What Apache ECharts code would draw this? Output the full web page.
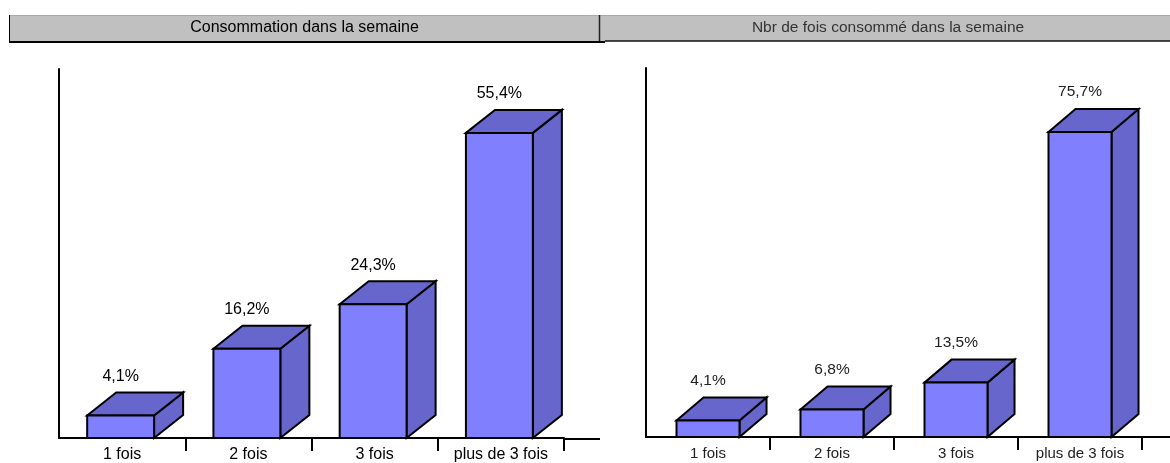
<!DOCTYPE html>
<html><head><meta charset="utf-8">
<script src="https://cdn.jsdelivr.net/npm/echarts@6/dist/echarts.min.js"></script>
<style>html,body{margin:0;padding:0;background:#fff}#c{width:1170px;height:463px}</style>
</head><body><div id="c"></div>
<script>
const categories = ['1 fois', '2 fois', '3 fois', 'plus de 3 fois'];
const consommationValues = [4.1, 16.2, 24.3, 55.4];
const nbrFoisValues = [4.1, 6.8, 13.5, 75.7];
const titles = ['Consommation dans la semaine', 'Nbr de fois consommé dans la semaine'];

const FONT = "'Liberation Sans', Arial, sans-serif";
const G = [
  {left: 59, top: 69, width: 505, height: 370, max: 67, wr: 0.53, dr: 0.23, dy: 23, shift: -1.5, lg: 16, fs: 16, cfs: 16, ext: 600, color: '#000', ccolor: '#000'},
  {left: 646, top: 68, width: 496, height: 369, max: 91.6, wr: 0.508, dr: 0.218, dy: 23, shift: 0, lg: 17, fs: 15.5, cfs: 15, ext: 1170, color: '#222', ccolor: '#222'}
];

function fmt(v) { return v.toFixed(1).replace('.', ',') + '%'; }

function makeRender(cfg) {
  return function (params, api) {
    const idx = api.value(0), val = api.value(1);
    const top = api.coord([idx, val]);
    const base = api.coord([idx, 0]);
    const cw = api.size([1, 0])[0];
    const w = cw * cfg.wr, dx = cw * cfg.dr, dy = cfg.dy;
    const x0 = top[0] - w / 2 + cfg.shift, x1 = x0 + w;
    const yT = top[1], yB = base[1];
    const st = {stroke: '#000', lineWidth: 2, lineJoin: 'miter'};
    return {type: 'group', children: [
      {type: 'polygon', shape: {points: [[x1, yB], [x1 + dx, yB - dy], [x1 + dx, yT - dy], [x1, yT]]}, style: Object.assign({}, st, {fill: '#6666cc'})},
      {type: 'polygon', shape: {points: [[x0, yT], [x0 + dx, yT - dy], [x1 + dx, yT - dy], [x1, yT]]}, style: Object.assign({}, st, {fill: '#6666cc'})},
      {type: 'rect', shape: {x: x0, y: yT, width: w, height: yB - yT}, style: Object.assign({}, st, {fill: '#8080ff'})},
      {type: 'text', x: (x0 + x1) / 2, y: yT - dy - cfg.lg, style: {text: fmt(val), fill: cfg.color, font: cfg.fs + 'px ' + FONT, align: 'center', verticalAlign: 'middle'}}
    ]};
  };
}

const chart = echarts.init(document.getElementById('c'));
const datasets = [consommationValues, nbrFoisValues];

chart.setOption({
  animation: false,
  grid: G.map(g => ({left: g.left, top: g.top, width: g.width, height: g.height})),
  xAxis: G.map((g, i) => ({
    type: 'category', gridIndex: i, data: categories,
    axisLine: {lineStyle: {color: '#000', width: 2}},
    axisTick: {show: true, length: 13, alignWithLabel: false, interval: function (idx) { return idx !== 0; }, lineStyle: {color: '#000', width: 2}},
    axisLabel: {margin: 9, color: g.ccolor, fontSize: g.cfs, fontFamily: FONT, interval: 0},
    splitLine: {show: false}
  })),
  yAxis: G.map((g, i) => ({
    type: 'value', gridIndex: i, min: 0, max: g.max,
    axisLine: {show: true, lineStyle: {color: '#000', width: 2}},
    axisTick: {show: false}, axisLabel: {show: false}, splitLine: {show: false}
  })),
  series: G.map((g, i) => ({
    type: 'custom', xAxisIndex: i, yAxisIndex: i,
    renderItem: makeRender(g),
    data: datasets[i].map((v, k) => [k, v]),
    z: 5
  })),
  graphic: [
    {type: 'rect', shape: {x: 9, y: 15, width: 591, height: 26}, style: {fill: '#c0c0c0'}},
    {type: 'rect', shape: {x: 600, y: 15, width: 570, height: 26}, style: {fill: '#c0c0c0'}},
    {type: 'line', shape: {x1: 9, y1: 15.5, x2: 1170, y2: 15.5}, style: {stroke: '#a8a8a8', lineWidth: 1}},
    {type: 'line', shape: {x1: 9.5, y1: 15, x2: 9.5, y2: 43}, style: {stroke: '#000', lineWidth: 1}},
    {type: 'line', shape: {x1: 9, y1: 42, x2: 605, y2: 42}, style: {stroke: '#000', lineWidth: 2}},
    {type: 'line', shape: {x1: 605, y1: 41, x2: 1170, y2: 41}, style: {stroke: '#111', lineWidth: 1.5}},
    {type: 'line', shape: {x1: 599.5, y1: 15, x2: 599.5, y2: 41}, style: {stroke: '#222', lineWidth: 1.5}},
    {type: 'text', x: 304.5, y: 28, style: {text: titles[0], fill: '#000', font: '16px ' + FONT, align: 'center', verticalAlign: 'middle'}},
    {type: 'text', x: 888, y: 28, style: {text: titles[1], fill: '#333', font: '15.5px ' + FONT, align: 'center', verticalAlign: 'middle'}},
    {type: 'line', shape: {x1: G[0].left + G[0].width, y1: G[0].top + G[0].height, x2: G[0].ext, y2: G[0].top + G[0].height}, style: {stroke: '#000', lineWidth: 2}},
    {type: 'line', shape: {x1: G[1].left + G[1].width, y1: G[1].top + G[1].height, x2: G[1].ext, y2: G[1].top + G[1].height}, style: {stroke: '#000', lineWidth: 2}}
  ]
});
</script>
</body></html>
